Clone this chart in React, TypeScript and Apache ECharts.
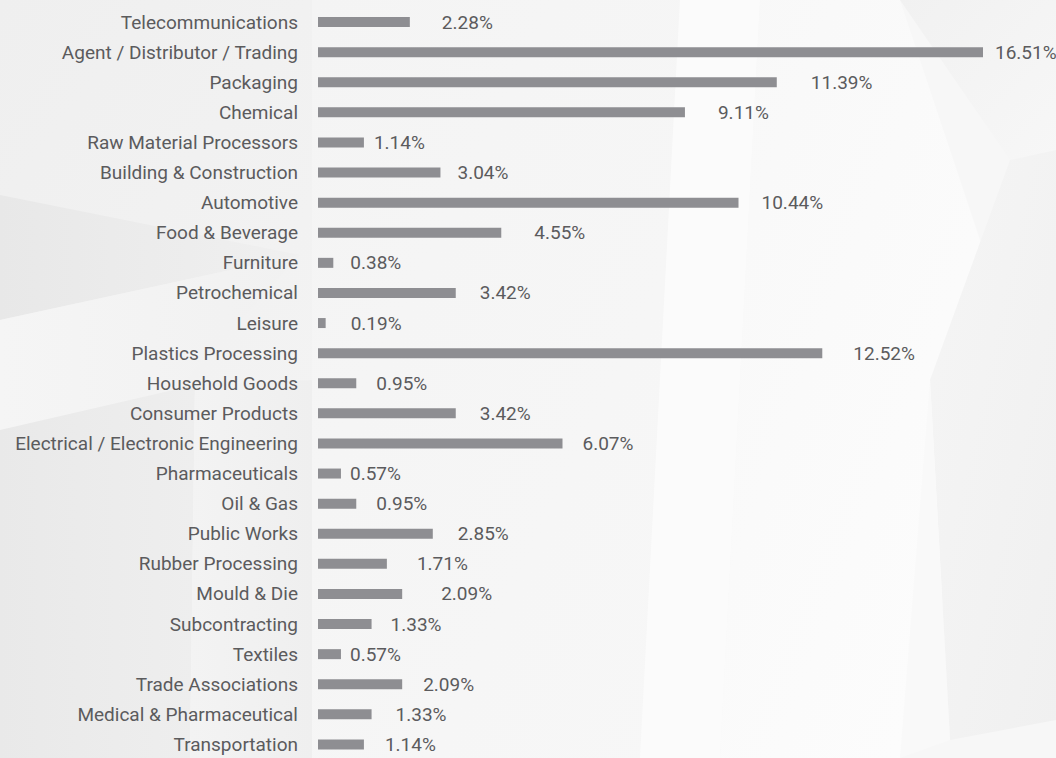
import React, { useEffect, useRef } from "react";
import * as echarts from "echarts";

const categories = [
  "Telecommunications",
  "Agent / Distributor / Trading",
  "Packaging",
  "Chemical",
  "Raw Material Processors",
  "Building & Construction",
  "Automotive",
  "Food & Beverage",
  "Furniture",
  "Petrochemical",
  "Leisure",
  "Plastics Processing",
  "Household Goods",
  "Consumer Products",
  "Electrical / Electronic Engineering",
  "Pharmaceuticals",
  "Oil & Gas",
  "Public Works",
  "Rubber Processing",
  "Mould & Die",
  "Subcontracting",
  "Textiles",
  "Trade Associations",
  "Medical & Pharmaceutical",
  "Transportation",
];

const shares = [
  2.28, 16.51, 11.39, 9.11, 1.14, 3.04, 10.44, 4.55, 0.38, 3.42, 0.19, 12.52, 0.95,
  3.42, 6.07, 0.57, 0.95, 2.85, 1.71, 2.09, 1.33, 0.57, 2.09, 1.33, 1.14,
];

// gap (px) between each bar end and its value label, as seen in the reference
const labelGap = [32, 12, 34, 33, 10, 17, 23, 33, 17, 24, 25, 31, 20, 24, 20, 9, 20, 25, 30, 39, 19, 9, 21, 24, 21];

const FONT = "Roboto, 'Noto Sans', sans-serif";
const TEXT = "#5b5b5d";
const BAR = "#8e8e92";

function lg(x: number, y: number, x2: number, y2: number, c1: string, c2: string) {
  return {
    type: "linear",
    x,
    y,
    x2,
    y2,
    colorStops: [
      { offset: 0, color: c1 },
      { offset: 1, color: c2 },
    ],
  };
}

function poly(points: number[][], fill: any) {
  return { type: "polygon", silent: true, shape: { points }, style: { fill } };
}

const background = [
  { type: "rect", silent: true, shape: { x: 0, y: 0, width: 1056, height: 758 }, style: { fill: "#f7f7f7" } },
  poly([[0, 0], [312, 0], [312, 380], [0, 420]], lg(0, 0, 1, 1, "#efefef", "#f3f3f3")),
  poly([[0, 195], [300, 255], [0, 320]], lg(0, 0, 1, 0, "#e8e8e8", "#f0f0f0")),
  poly([[0, 320], [300, 255], [150, 420], [0, 430]], lg(0, 0, 1, 0, "#f5f5f5", "#f1f1f1")),
  poly([[0, 430], [195, 385], [190, 758], [0, 758]], lg(0, 0, 1, 0, "#e9e9e9", "#eeeeee")),
  poly([[195, 385], [312, 380], [312, 758], [190, 758]], lg(0, 0, 1, 0, "#f3f3f3", "#efefef")),
  poly([[312, 0], [680, 0], [640, 758], [312, 758]], lg(0, 0, 1, 1, "#f4f4f4", "#f7f7f7")),
  poly([[680, 0], [760, 0], [720, 758], [640, 758]], "#fbfbfb"),
  poly([[760, 0], [900, 0], [1010, 330], [900, 758], [720, 758]], lg(0, 0, 1, 1, "#f8f8f8", "#fdfdfd")),
  poly([[900, 0], [1056, 0], [1056, 150], [1010, 160]], lg(0, 0, 1, 1, "#f1f1f1", "#f7f7f7")),
  poly([[1010, 160], [1056, 150], [1056, 720], [950, 740], [930, 380]], lg(0, 0, 1, 1, "#f5f5f5", "#f0f0f0")),
  poly([[930, 380], [950, 740], [900, 758]], "#f9f9f9"),
];

export default function App() {
  const ref = useRef<HTMLDivElement>(null);
  useEffect(() => {
    if (!ref.current) return;
    const chart = echarts.init(ref.current, undefined, { renderer: "svg" });
    chart.setOption({
      animation: false,
      graphic: { elements: [{ type: "group", z: -10, silent: true, children: background }] },
      grid: {
        left: 318,
        width: 665,
        top: 7,
        height: 752.5,
        containLabel: false,
        outerBoundsMode: "none",
      },
      xAxis: { type: "value", min: 0, max: 16.51, show: false },
      yAxis: {
        type: "category",
        data: categories,
        inverse: true,
        axisLine: { show: false },
        axisTick: { show: false },
        splitLine: { show: false },
        axisLabel: { margin: 20, fontSize: 19, fontWeight: 400, fontFamily: FONT, color: TEXT },
      },
      series: [
        {
          type: "bar",
          barWidth: 10,
          itemStyle: { color: BAR },
          data: shares.map((v, i) => ({ value: v, label: { distance: labelGap[i] } })),
          label: {
            show: true,
            position: "right",
            fontSize: 19,
            fontWeight: 400,
            fontFamily: FONT,
            color: TEXT,
            formatter: (p: any) => `${Number(p.value).toFixed(2)}%`,
          },
        },
      ],
    });
    return () => chart.dispose();
  }, []);
  return (
    <div
      ref={ref}
      style={{ position: "absolute", left: 0, top: 0, width: 1056, height: 758, overflow: "hidden" }}
    />
  );
}
